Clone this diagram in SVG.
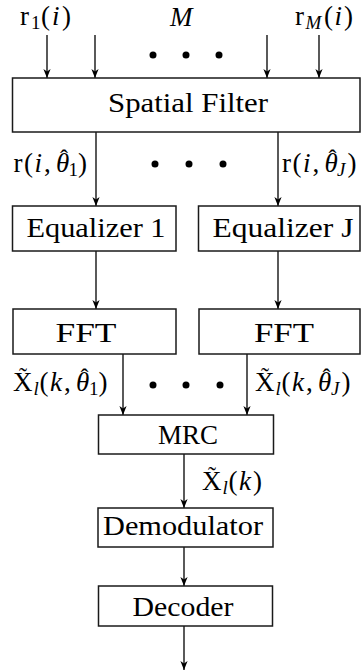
<svg xmlns="http://www.w3.org/2000/svg" width="361" height="672" viewBox="0 0 361 672">
<style>
.box{fill:#fff;stroke:#1a1a1a;stroke-width:1.5}
.c{fill:none;stroke:#000;stroke-width:1.3;marker-end:url(#ah)}
.t{font-family:"Liberation Serif","DejaVu Serif",serif;fill:#000;text-anchor:middle;font-size:28px}
.lb{font-family:"Liberation Serif","DejaVu Serif",serif;fill:#000;font-size:27px}
.s{font-size:19px}
.i{font-style:italic}
.acc{font-size:24px}
.dot{fill:#000}
</style>
<defs>
<marker id="ah" markerUnits="userSpaceOnUse" markerWidth="12" markerHeight="10" viewBox="-10 -5 12 10" refX="0" refY="0" orient="auto">
<path d="M0,0 L-9,-3.6 L-6.5,0 L-9,3.6 Z" fill="#000"/>
</marker>
</defs>
<g id="connectors">
<path class="c" d="M47,35 V78"/>
<path class="c" d="M95,35 V78"/>
<path class="c" d="M267,35 V78"/>
<path class="c" d="M319,35 V78"/>
<path class="c" d="M96,132 V206"/>
<path class="c" d="M278,132 V206"/>
<path class="c" d="M96,251 V309"/>
<path class="c" d="M278,251 V309"/>
<path class="c" d="M123,354 V415"/>
<path class="c" d="M247,354 V415"/>
<path class="c" d="M184,454 V508"/>
<path class="c" d="M184,547 V586"/>
<path class="c" d="M184,626 V670"/>
</g>
<g id="dots">
<circle class="dot" cx="153" cy="55" r="3.5"/><circle class="dot" cx="186" cy="55" r="3.5"/><circle class="dot" cx="219" cy="55" r="3.5"/>
<circle class="dot" cx="155" cy="164" r="3.5"/><circle class="dot" cx="189" cy="164" r="3.5"/><circle class="dot" cx="223" cy="164" r="3.5"/>
<circle class="dot" cx="153" cy="385" r="3.5"/><circle class="dot" cx="186" cy="385" r="3.5"/><circle class="dot" cx="220" cy="385" r="3.5"/>
</g>
<g id="spatial-filter">
<rect class="box" x="12.5" y="78" width="347.5" height="54"/>
<text class="t" x="188" y="112" font-size="27" textLength="160" lengthAdjust="spacingAndGlyphs">Spatial Filter</text>
</g>
<g id="equalizer-1">
<rect class="box" x="12.5" y="206" width="163.5" height="45"/>
<text class="t" x="96" y="237" textLength="139" lengthAdjust="spacingAndGlyphs">Equalizer 1</text>
</g>
<g id="equalizer-j">
<rect class="box" x="198.5" y="206" width="161.5" height="45"/>
<text class="t" x="283" y="237" textLength="141" lengthAdjust="spacingAndGlyphs">Equalizer J</text>
</g>
<g id="fft-1">
<rect class="box" x="13" y="309" width="163" height="45"/>
<text class="t" x="86" y="342" textLength="61" lengthAdjust="spacingAndGlyphs">FFT</text>
</g>
<g id="fft-j">
<rect class="box" x="199" y="309" width="161" height="45"/>
<text class="t" x="284" y="342" textLength="60" lengthAdjust="spacingAndGlyphs">FFT</text>
</g>
<g id="mrc">
<rect class="box" x="98.5" y="415" width="175" height="39"/>
<text class="t" x="188" y="444" textLength="60" lengthAdjust="spacingAndGlyphs">MRC</text>
</g>
<g id="demodulator">
<rect class="box" x="98" y="508" width="175" height="39"/>
<text class="t" x="183" y="535" textLength="160" lengthAdjust="spacingAndGlyphs">Demodulator</text>
</g>
<g id="decoder">
<rect class="box" x="98.5" y="586" width="174" height="40"/>
<text class="t" x="183" y="616" textLength="101" lengthAdjust="spacingAndGlyphs">Decoder</text>
</g>
<g id="labels">
<text class="lb" y="25"><tspan x="20">r</tspan><tspan class="s" x="31" dy="4">1</tspan><tspan x="41" dy="-4">(</tspan><tspan class="i" x="52">i</tspan><tspan x="62">)</tspan></text>
<text class="lb i" x="170" y="26">M</text>
<text class="lb" y="25"><tspan x="295">r</tspan><tspan class="s i" x="305.6" dy="4">M</tspan><tspan x="324" dy="-4">(</tspan><tspan class="i" x="334.5">i</tspan><tspan x="344">)</tspan></text>

<text class="lb" y="172"><tspan x="13.5">r</tspan><tspan x="24.1">(</tspan><tspan class="i" x="34.6">i</tspan><tspan x="43.9">,</tspan><tspan class="i" x="55.9">θ</tspan><tspan class="s" x="68.6" dy="4">1</tspan><tspan x="78" dy="-4">)</tspan><tspan class="acc" x="60" dy="-6">ˆ</tspan></text>
<text class="lb" y="172"><tspan x="282">r</tspan><tspan x="292.6">(</tspan><tspan class="i" x="303.1">i</tspan><tspan x="312.4">,</tspan><tspan class="i" x="324.4">θ</tspan><tspan class="s i" x="337.1" dy="4">J</tspan><tspan x="347.6" dy="-4">)</tspan><tspan class="acc" x="328.5" dy="-6">ˆ</tspan></text>

<text class="lb" y="391"><tspan x="13">X</tspan><tspan class="s i" x="33.5" dy="4">l</tspan><tspan x="39.5" dy="-4">(</tspan><tspan class="i" x="50">k</tspan><tspan x="64">,</tspan><tspan class="i" x="76">θ</tspan><tspan class="s" x="89" dy="4">1</tspan><tspan x="98.5" dy="-4">)</tspan><tspan class="acc" x="19" dy="-7">˜</tspan><tspan class="acc" x="80.5" dy="1">ˆ</tspan></text>
<text class="lb" y="391"><tspan x="255">X</tspan><tspan class="s i" x="275.5" dy="4">l</tspan><tspan x="281.5" dy="-4">(</tspan><tspan class="i" x="292">k</tspan><tspan x="306">,</tspan><tspan class="i" x="318">θ</tspan><tspan class="s i" x="331" dy="4">J</tspan><tspan x="341.5" dy="-4">)</tspan><tspan class="acc" x="261" dy="-7">˜</tspan><tspan class="acc" x="322.5" dy="1">ˆ</tspan></text>

<text class="lb" y="490"><tspan x="202">X</tspan><tspan class="s i" x="222.5" dy="4">l</tspan><tspan x="228.5" dy="-4">(</tspan><tspan class="i" x="239">k</tspan><tspan x="253">)</tspan><tspan class="acc" x="208" dy="-7">˜</tspan></text>
</g>
</svg>
